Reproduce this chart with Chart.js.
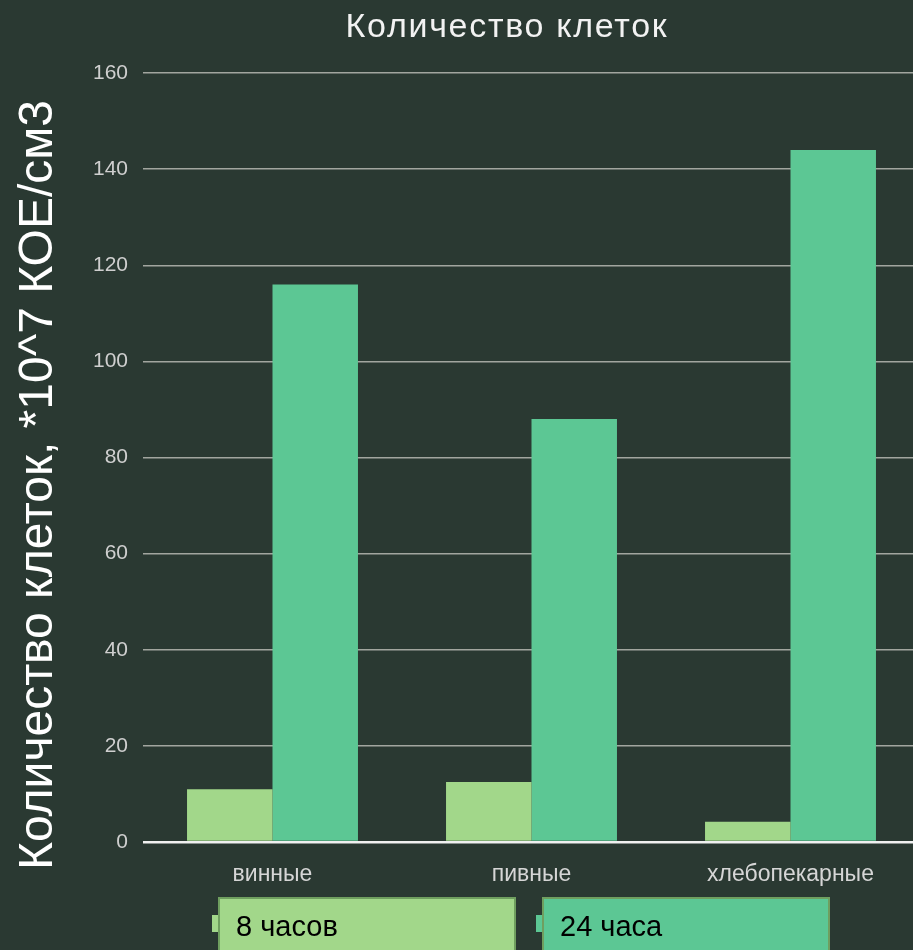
<!DOCTYPE html>
<html>
<head>
<meta charset="utf-8">
<script src="https://cdn.jsdelivr.net/npm/chart.js@4.4.1/dist/chart.umd.min.js"></script>
<style>
  html, body { margin: 0; padding: 0; background: #2a3932; overflow: hidden; }
  #wrap { width: 913px; height: 950px; overflow: hidden; position: relative; }
  canvas { display: block; }
</style>
</head>
<body>
<div id="wrap"><canvas id="cellChart" width="922" height="950"></canvas></div>
<script>
// Data
const categories = ["винные", "пивные", "хлебопекарные"];
const seriesNames = ["8 часов", "24 часа"];
const hours8 = [11, 12.5, 4.2];
const hours24 = [116, 88, 144];
const yTicks = [0, 20, 40, 60, 80, 100, 120, 140, 160];

const chartTitle = "Количество клеток";
const yTitle = "Количество клеток, *10^7 КОЕ/см3";

const colors = ["#a2d78a", "#5cc794"];
const legendBorder = "#6f9f5f";
const bg = "#2a3932";
const sans = "'Liberation Sans', Arial, sans-serif";

// Title, rotated axis title and the boxed legend at the bottom
const extras = {
    id: "extras",
    beforeDraw(chart) {
        const c = chart.ctx;
        c.save();
        c.fillStyle = bg;
        c.fillRect(0, 0, chart.width, chart.height);
        c.restore();
    },
    afterDraw(chart) {
        const c = chart.ctx;
        c.save();
        c.fillStyle = "#f2f2f2";
        c.font = "34px " + sans;
        c.letterSpacing = "1.7px";
        c.textAlign = "center";
        c.textBaseline = "alphabetic";
        c.fillText(chartTitle, 507, 37);
        c.letterSpacing = "0px";

        c.translate(52, 485);
        c.rotate(-Math.PI / 2);
        c.fillStyle = "#ffffff";
        c.font = "48px " + sans;
        c.fillText(yTitle, 0, 0);
        c.restore();

        // legend
        const boxes = [[218, 516], [542, 830]];
        chart.data.datasets.forEach((ds, i) => {
            const [x0, x1] = boxes[i];
            c.save();
            c.fillStyle = ds.backgroundColor;
            c.fillRect(x0 - 6, 915, 6, 17);
            c.fillRect(x0, 898, x1 - x0, 60);
            c.strokeStyle = legendBorder;
            c.lineWidth = 2;
            c.strokeRect(x0 + 1, 898, x1 - x0 - 2, 60);
            c.fillStyle = "#000000";
            c.font = "29px " + sans;
            c.textAlign = "left";
            c.textBaseline = "alphabetic";
            c.fillText(ds.label, x0 + 18, 936);
            c.restore();
        });
    }
};

new Chart(document.getElementById("cellChart"), {
    type: "bar",
    data: {
        labels: categories,
        datasets: [
            { label: seriesNames[0], data: hours8, backgroundColor: colors[0] },
            { label: seriesNames[1], data: hours24, backgroundColor: colors[1] }
        ]
    },
    options: {
        responsive: false,
        animation: false,
        devicePixelRatio: 1,
        layout: { padding: { top: 73, right: 2, left: 0, bottom: 0 } },
        datasets: { bar: { categoryPercentage: 0.66, barPercentage: 1.0 } },
        plugins: {
            legend: { display: false },
            title: { display: false },
            tooltip: { enabled: false }
        },
        scales: {
            x: {
                grid: { display: false },
                border: { display: false },
                ticks: {
                    color: "#d6d6d6",
                    padding: 11,
                    font: { family: sans, size: 23 }
                },
                afterFit(scale) { scale.height = 108; }
            },
            y: {
                min: 0,
                max: 160,
                afterBuildTicks(scale) { scale.ticks = yTicks.map(v => ({ value: v })); },
                border: { display: false },
                grid: {
                    drawTicks: false,
                    color: ctx => ctx.tick && ctx.tick.value === 0 ? "#f0f0f0" : "#a2a69f",
                    lineWidth: ctx => ctx.tick && ctx.tick.value === 0 ? 2.5 : 1.5
                },
                ticks: {
                    color: "#cfcfcf",
                    padding: 15,
                    font: { family: sans, size: 21 }
                },
                afterFit(scale) { scale.width = 143; }
            }
        }
    },
    plugins: [extras]
});
</script>
</body>
</html>
